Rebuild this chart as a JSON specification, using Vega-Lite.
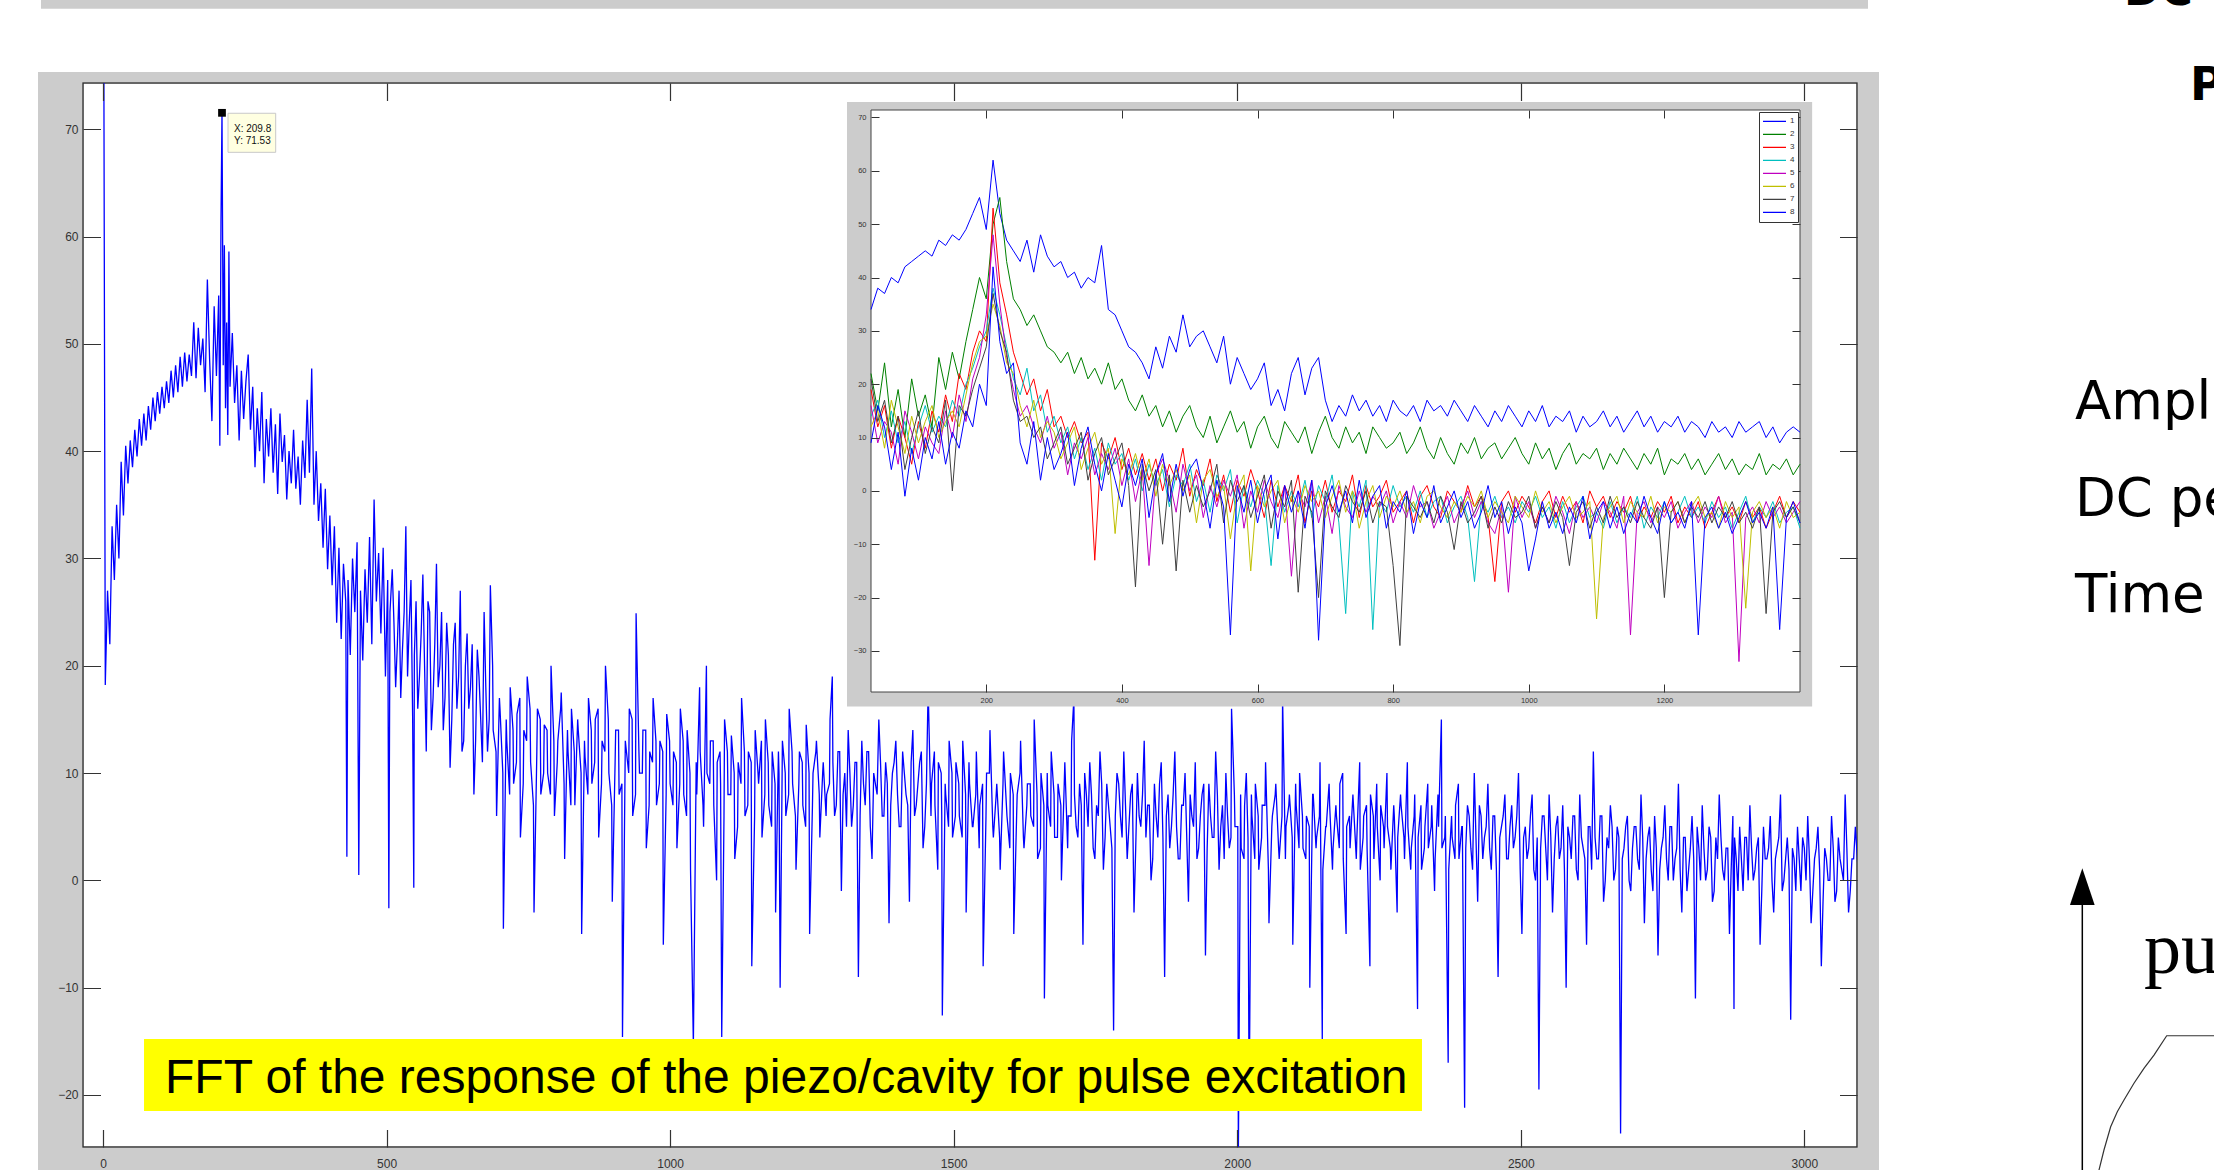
{
"$schema": "https://vega.github.io/schema/vega-lite/v6.json",
"width": 1774,
"height": 1064,
"autosize": {"type": "none"},
"padding": {"left": 83, "top": 83, "right": 357, "bottom": 23},
"background": "white",
"config": {"font": "Liberation Sans", "view": {"fill": "white", "stroke": "#333333", "strokeWidth": 1.5}},
"datasets": {
"fft": [
{"x":0,"y":110},{"x":4,"y":18.2},{"x":8,"y":27},{"x":12,"y":22},{"x":16,"y":33},{"x":20,"y":28},{"x":24,"y":35},{"x":28,"y":30},{"x":32,"y":39},{"x":36,"y":34},{"x":40,"y":40.5},{"x":44,"y":37},{"x":48,"y":41},{"x":52,"y":38.5},{"x":56,"y":42},{"x":60,"y":39.5},{"x":64,"y":43},{"x":68,"y":40.5},{"x":72,"y":43.5},{"x":76,"y":41},{"x":80,"y":44.2},{"x":84,"y":42},{"x":88,"y":45},{"x":92,"y":42.8},{"x":96,"y":45.5},{"x":100,"y":43.5},{"x":104,"y":46},{"x":108,"y":44},{"x":112,"y":46.5},{"x":116,"y":44.5},{"x":120,"y":47.5},{"x":124,"y":45},{"x":128,"y":48},{"x":132,"y":45.5},{"x":136,"y":48.8},{"x":140,"y":46},{"x":144,"y":49.2},{"x":148,"y":46.5},{"x":152,"y":49},{"x":156,"y":47},{"x":160,"y":52},{"x":164,"y":46.8},{"x":168,"y":51.5},{"x":172,"y":48},{"x":176,"y":50.5},{"x":180,"y":45.5},{"x":184,"y":56},{"x":188,"y":48.5},{"x":192,"y":42.8},{"x":196,"y":53.5},{"x":200,"y":47},{"x":204,"y":54.5},{"x":206,"y":40.5},{"x":208,"y":61.3},{"x":209.8,"y":71.53},{"x":212,"y":48},{"x":214,"y":59.2},{"x":216,"y":44},{"x":218,"y":52},{"x":220,"y":41.5},{"x":222,"y":58.6},{"x":224,"y":46},
{"x":228,"y":51},{"x":232,"y":44.5},{"x":236,"y":48},{"x":240,"y":41},{"x":244,"y":47.5},{"x":248,"y":43},{"x":252,"y":46.5},{"x":256,"y":49},{"x":260,"y":42},{"x":264,"y":46},{"x":268,"y":38.5},{"x":272,"y":44},{"x":276,"y":40},{"x":280,"y":45.5},{"x":284,"y":37},{"x":288,"y":43},{"x":292,"y":39.5},{"x":296,"y":44},{"x":300,"y":38},{"x":304,"y":42.5},{"x":308,"y":36},{"x":312,"y":43.5},{"x":316,"y":39},{"x":320,"y":41.5},{"x":324,"y":35.5},{"x":328,"y":40},{"x":332,"y":37},{"x":336,"y":42},{"x":340,"y":36.5},{"x":344,"y":39.5},{"x":348,"y":35},{"x":352,"y":41},{"x":356,"y":37.5},{"x":360,"y":44.8},{"x":364,"y":38},{"x":368,"y":47.7},{"x":372,"y":35},{"x":376,"y":40},{"x":380,"y":33.5},{"x":384,"y":37},{"x":388,"y":31},{"x":392,"y":36.5},{"x":396,"y":29},{"x":400,"y":34},{"x":404,"y":27.5},{"x":408,"y":33},{"x":412,"y":24},{"x":416,"y":31},{"x":420,"y":22.5},{"x":424,"y":29.5},{"x":428,"y":26},{"x":430,"y":2.2},{"x":432,"y":28},{"x":436,"y":21},{"x":440,"y":30},{"x":444,"y":25},{"x":448,"y":31.5},{"x":451,"y":0.5},{"x":454,"y":27},{"x":458,"y":20.5},{"x":462,"y":29},{"x":466,"y":24},{"x":470,"y":32},{"x":474,"y":22},{"x":478,"y":35.5},{"x":482,"y":26},{"x":486,"y":30.5},{"x":490,"y":23},{"x":494,"y":31},{"x":498,"y":19},{"x":502,"y":28},{"x":504,"y":-2.6},{"x":506,"y":25},
{"x":510,"y":29},{"x":516,"y":18},{"x":522,"y":27},{"x":528,"y":21.5},{"x":534,"y":33},{"x":540,"y":24},{"x":546,"y":15},{"x":548,"y":-0.7},{"x":552,"y":26},{"x":558,"y":19},{"x":564,"y":28.5},{"x":570,"y":12},{"x":576,"y":25},{"x":582,"y":17},{"x":588,"y":29.5},{"x":594,"y":20},{"x":600,"y":14},{"x":606,"y":24},{"x":612,"y":10.5},{"x":618,"y":22},{"x":624,"y":16},{"x":630,"y":27},{"x":636,"y":13},{"x":642,"y":23},{"x":648,"y":18},{"x":654,"y":8},{"x":660,"y":21.5},{"x":666,"y":15},{"x":672,"y":25},{"x":678,"y":12},{"x":683,"y":27.5},{"x":688,"y":14},{"x":694,"y":6},{"x":700,"y":16},{"x":706,"y":-4.5},{"x":712,"y":13},{"x":718,"y":18},{"x":724,"y":9},{"x":730,"y":15.5},{"x":736,"y":4},{"x":742,"y":14},{"x":748,"y":19},{"x":754,"y":11},{"x":760,"y":-3},{"x":766,"y":16},{"x":772,"y":8},{"x":778,"y":14.5},{"x":784,"y":10},{"x":790,"y":20},{"x":796,"y":6},{"x":802,"y":13},{"x":808,"y":17.5},{"x":814,"y":2},{"x":820,"y":12},{"x":826,"y":16},{"x":832,"y":7},{"x":838,"y":14},{"x":844,"y":-5},{"x":850,"y":11.5},{"x":856,"y":17},{"x":862,"y":9},{"x":868,"y":15},{"x":874,"y":4},{"x":880,"y":13},{"x":886,"y":20},{"x":892,"y":10},{"x":898,"y":-2},{"x":904,"y":14},{"x":910,"y":8},{"x":916,"y":-14.6},{"x":922,"y":12.5},{"x":928,"y":16},{"x":934,"y":6},{"x":940,"y":24.9},{"x":946,"y":10},{"x":952,"y":14},{"x":958,"y":3},{"x":964,"y":12},{"x":970,"y":17},{"x":976,"y":7},{"x":982,"y":13},{"x":988,"y":-6},{"x":994,"y":15.5},
{"x":1000,"y":9},{"x":1006,"y":12},{"x":1012,"y":3},{"x":1018,"y":16},{"x":1024,"y":8},{"x":1030,"y":14},{"x":1036,"y":1},{"x":1041,"y":-15.3},{"x":1046,"y":11},{"x":1052,"y":18},{"x":1058,"y":7},{"x":1064,"y":20},{"x":1070,"y":9},{"x":1076,"y":13},{"x":1082,"y":0},{"x":1088,"y":12},{"x":1091,"y":-14.6},{"x":1096,"y":15},{"x":1102,"y":8},{"x":1108,"y":13.5},{"x":1114,"y":2},{"x":1120,"y":11},{"x":1126,"y":17},{"x":1132,"y":6},{"x":1138,"y":12},{"x":1144,"y":-8},{"x":1150,"y":14},{"x":1156,"y":9},{"x":1162,"y":4},{"x":1168,"y":15},{"x":1174,"y":7},{"x":1180,"y":12},{"x":1186,"y":-3},{"x":1192,"y":10},{"x":1194,"y":-10},{"x":1198,"y":13},{"x":1204,"y":6},{"x":1210,"y":16},{"x":1216,"y":9},{"x":1222,"y":1},{"x":1228,"y":12},{"x":1234,"y":7},{"x":1240,"y":14.5},{"x":1246,"y":-5},{"x":1252,"y":10},{"x":1258,"y":13},{"x":1264,"y":4},{"x":1270,"y":11},{"x":1276,"y":8},{"x":1282,"y":15},{"x":1286,"y":19},{"x":1290,"y":6},{"x":1296,"y":12},{"x":1302,"y":-1},{"x":1308,"y":10},{"x":1314,"y":14},{"x":1320,"y":5},{"x":1326,"y":11},{"x":1332,"y":-9},{"x":1338,"y":13},{"x":1344,"y":7},{"x":1350,"y":12},{"x":1356,"y":2},{"x":1362,"y":9},{"x":1368,"y":15},{"x":1374,"y":6},{"x":1380,"y":11},{"x":1386,"y":-4},{"x":1392,"y":10},{"x":1398,"y":13},{"x":1404,"y":5},{"x":1410,"y":12},{"x":1416,"y":8},{"x":1422,"y":-2},{"x":1428,"y":14},{"x":1434,"y":7},{"x":1440,"y":11},{"x":1446,"y":3},{"x":1452,"y":9},{"x":1455,"y":18},{"x":1460,"y":6},{"x":1466,"y":12},{"x":1472,"y":1},{"x":1478,"y":10},{"x":1480,"y":-12.6},{"x":1486,"y":8},{"x":1492,"y":13},{"x":1498,"y":4},
{"x":1504,"y":11},{"x":1510,"y":6},{"x":1516,"y":13},{"x":1522,"y":-3},{"x":1528,"y":9},{"x":1534,"y":5},{"x":1540,"y":12},{"x":1546,"y":7},{"x":1552,"y":-8},{"x":1558,"y":10},{"x":1564,"y":14},{"x":1570,"y":4},{"x":1576,"y":9},{"x":1582,"y":1},{"x":1588,"y":12},{"x":1594,"y":6},{"x":1600,"y":10},{"x":1606,"y":-5},{"x":1612,"y":8},{"x":1618,"y":13},{"x":1624,"y":3},{"x":1630,"y":9},{"x":1636,"y":6},{"x":1642,"y":15},{"x":1648,"y":2},{"x":1654,"y":10},{"x":1660,"y":-11},{"x":1666,"y":7},{"x":1672,"y":12},{"x":1678,"y":4},{"x":1684,"y":9},{"x":1690,"y":0},{"x":1696,"y":11},{"x":1702,"y":6},{"x":1708,"y":13},{"x":1712,"y":17},{"x":1716,"y":5},{"x":1722,"y":9},{"x":1728,"y":-6},{"x":1734,"y":8},{"x":1740,"y":11},{"x":1746,"y":3},{"x":1752,"y":7},{"x":1758,"y":12},{"x":1764,"y":1},{"x":1770,"y":9},{"x":1776,"y":5},{"x":1782,"y":-14},{"x":1788,"y":10},{"x":1794,"y":6},{"x":1800,"y":12},{"x":1806,"y":2},{"x":1812,"y":8},{"x":1818,"y":-3},{"x":1824,"y":10},{"x":1830,"y":5},{"x":1836,"y":13},{"x":1842,"y":7},{"x":1848,"y":0},{"x":1854,"y":9},{"x":1860,"y":4},{"x":1866,"y":11},{"x":1872,"y":-9},{"x":1878,"y":8},{"x":1884,"y":5},{"x":1890,"y":12},{"x":1896,"y":2},{"x":1902,"y":7},{"x":1908,"y":10},{"x":1914,"y":-2},{"x":1920,"y":6},{"x":1926,"y":11},{"x":1932,"y":3},{"x":1938,"y":8},{"x":1944,"y":-7},{"x":1950,"y":9},{"x":1956,"y":4},{"x":1962,"y":12},{"x":1968,"y":1},{"x":1974,"y":7},{"x":1980,"y":10},{"x":1986,"y":3},{"x":1990,"y":16},{"x":1996,"y":5},
{"x":2002,"y":-26},{"x":2006,"y":8},{"x":2012,"y":2},{"x":2016,"y":10},{"x":2021,"y":-21.5},{"x":2026,"y":6},{"x":2032,"y":9},{"x":2038,"y":1},{"x":2044,"y":7},{"x":2050,"y":11},{"x":2056,"y":-4},{"x":2062,"y":6},{"x":2068,"y":9},{"x":2074,"y":2},{"x":2080,"y":17},{"x":2086,"y":5},{"x":2092,"y":8},{"x":2098,"y":-6},{"x":2104,"y":7},{"x":2110,"y":10},{"x":2116,"y":3},{"x":2122,"y":6},{"x":2128,"y":-10},{"x":2134,"y":8},{"x":2140,"y":4},{"x":2146,"y":11},{"x":2150,"y":-15},{"x":2156,"y":5},{"x":2162,"y":9},{"x":2168,"y":1},{"x":2174,"y":7},{"x":2180,"y":3},{"x":2186,"y":10},{"x":2192,"y":-5},{"x":2198,"y":6},{"x":2204,"y":8},{"x":2210,"y":2},{"x":2216,"y":11},{"x":2222,"y":4},{"x":2228,"y":7},{"x":2234,"y":-8},{"x":2240,"y":6},{"x":2246,"y":9},{"x":2252,"y":0},{"x":2258,"y":5},{"x":2264,"y":10},{"x":2270,"y":3},{"x":2276,"y":7},{"x":2282,"y":-3},{"x":2288,"y":8},{"x":2294,"y":4},{"x":2300,"y":11},{"x":2306,"y":1},{"x":2312,"y":6},{"x":2318,"y":-12},{"x":2324,"y":7},{"x":2330,"y":3},{"x":2336,"y":9},{"x":2342,"y":5},{"x":2348,"y":-1},{"x":2354,"y":8},{"x":2360,"y":15},{"x":2366,"y":4},{"x":2372,"y":-17},{"x":2378,"y":6},{"x":2384,"y":2},{"x":2390,"y":9},{"x":2396,"y":5},{"x":2401,"y":-21.2},{"x":2406,"y":7},{"x":2412,"y":3},{"x":2418,"y":10},{"x":2424,"y":-2},{"x":2430,"y":6},{"x":2436,"y":4},{"x":2442,"y":9},{"x":2448,"y":1},{"x":2454,"y":6},{"x":2460,"y":-9},{"x":2466,"y":5},{"x":2472,"y":8},{"x":2478,"y":2},{"x":2484,"y":7},{"x":2490,"y":4},{"x":2496,"y":10},
{"x":2502,"y":-5},{"x":2508,"y":5},{"x":2514,"y":3},{"x":2520,"y":8},{"x":2526,"y":0},{"x":2532,"y":-19.5},{"x":2538,"y":6},{"x":2544,"y":3},{"x":2550,"y":8},{"x":2556,"y":-3},{"x":2562,"y":5},{"x":2568,"y":2},{"x":2574,"y":7},{"x":2580,"y":-10},{"x":2586,"y":4},{"x":2592,"y":6},{"x":2598,"y":1},{"x":2604,"y":8},{"x":2610,"y":3},{"x":2616,"y":-6},{"x":2622,"y":5},{"x":2628,"y":12},{"x":2634,"y":2},{"x":2640,"y":6},{"x":2646,"y":-2},{"x":2652,"y":4},{"x":2658,"y":7},{"x":2664,"y":0},{"x":2670,"y":5},{"x":2676,"y":-23.6},{"x":2682,"y":3},{"x":2688,"y":6},{"x":2694,"y":-1},{"x":2700,"y":5},{"x":2706,"y":2},{"x":2712,"y":8},{"x":2718,"y":-4},{"x":2724,"y":4},{"x":2730,"y":1},{"x":2736,"y":6},{"x":2742,"y":-7},{"x":2748,"y":3},{"x":2754,"y":7},{"x":2760,"y":0},{"x":2766,"y":5},{"x":2772,"y":2},{"x":2778,"y":9},{"x":2784,"y":-3},{"x":2790,"y":4},{"x":2796,"y":1},{"x":2802,"y":6},{"x":2808,"y":-11},{"x":2814,"y":3},{"x":2820,"y":7},{"x":2826,"y":0},{"x":2832,"y":5},{"x":2838,"y":-2},{"x":2844,"y":4},{"x":2850,"y":8},{"x":2856,"y":1},{"x":2862,"y":3},{"x":2868,"y":-5},{"x":2874,"y":6},{"x":2876,"y":-12},{"x":2880,"y":2},{"x":2886,"y":5},{"x":2892,"y":-1},{"x":2898,"y":4},{"x":2904,"y":7},{"x":2910,"y":0},{"x":2916,"y":3},{"x":2922,"y":-6},{"x":2928,"y":5},{"x":2934,"y":2},{"x":2940,"y":6},{"x":2946,"y":-3},{"x":2952,"y":3},{"x":2958,"y":8},{"x":2964,"y":0},{"x":2970,"y":4},{"x":2976,"y":-13},{"x":2982,"y":2},{"x":2988,"y":5},{"x":2994,"y":-1},{"x":3000,"y":3},{"x":3006,"y":6},{"x":3012,"y":-4},{"x":3018,"y":2},{"x":3024,"y":5},{"x":3030,"y":-8},{"x":3036,"y":3},{"x":3042,"y":0},{"x":3048,"y":6},{"x":3054,"y":-2},{"x":3060,"y":4},{"x":3066,"y":1},{"x":3072,"y":8},{"x":3078,"y":-3},{"x":3084,"y":2},{"x":3090,"y":5},{"x":3096,"y":0},
{"x":513,"y":24},{"x":519,"y":22},{"x":525,"y":17},{"x":531,"y":25},{"x":537,"y":19},{"x":543,"y":28},{"x":549,"y":21},{"x":555,"y":16},{"x":561,"y":23},{"x":567,"y":20},{"x":573,"y":26},{"x":579,"y":14},{"x":585,"y":22},{"x":591,"y":18},{"x":597,"y":25},{"x":603,"y":17},{"x":609,"y":21},{"x":615,"y":15},{"x":621,"y":24},{"x":627,"y":19},{"x":633,"y":12},{"x":639,"y":20},{"x":645,"y":16},{"x":651,"y":22},{"x":657,"y":13},{"x":663,"y":19},{"x":669,"y":11},{"x":675,"y":18},{"x":681,"y":15},{"x":687,"y":20},{"x":693,"y":12},{"x":699,"y":17},
{"x":705,"y":10},{"x":711,"y":15},{"x":717,"y":8},{"x":723,"y":14},{"x":729,"y":11},{"x":735,"y":17},{"x":741,"y":9},{"x":747,"y":13},{"x":753,"y":16},{"x":759,"y":7},{"x":765,"y":12},{"x":771,"y":15},{"x":777,"y":10},{"x":783,"y":14},{"x":789,"y":8},{"x":795,"y":13},{"x":801,"y":11},{"x":807,"y":16},{"x":813,"y":9},{"x":819,"y":14},{"x":825,"y":7},{"x":831,"y":12},{"x":837,"y":15},{"x":843,"y":10},{"x":849,"y":13},{"x":855,"y":8},{"x":861,"y":14},{"x":867,"y":11},{"x":873,"y":16},{"x":879,"y":9},{"x":885,"y":12},{"x":891,"y":15},{"x":897,"y":7},{"x":903,"y":11},{"x":909,"y":14},{"x":915,"y":9},{"x":921,"y":13},{"x":927,"y":10},{"x":933,"y":15},{"x":939,"y":8},{"x":945,"y":12},{"x":951,"y":10},{"x":957,"y":14},{"x":963,"y":7},{"x":969,"y":11},{"x":975,"y":13},{"x":981,"y":9},{"x":987,"y":12},{"x":993,"y":8},{"x":999,"y":13},
{"x":1005,"y":7},{"x":1011,"y":11},{"x":1017,"y":9},{"x":1023,"y":13},{"x":1029,"y":6},{"x":1035,"y":10},{"x":1047,"y":8},{"x":1053,"y":12},{"x":1059,"y":5},{"x":1065,"y":10},{"x":1071,"y":13},{"x":1077,"y":7},{"x":1083,"y":11},{"x":1089,"y":9},{"x":1095,"y":6},{"x":1101,"y":12},{"x":1107,"y":8},{"x":1113,"y":10},{"x":1119,"y":5},{"x":1125,"y":9},{"x":1131,"y":12},{"x":1137,"y":7},{"x":1143,"y":11},{"x":1149,"y":6},{"x":1155,"y":10},{"x":1161,"y":13},{"x":1167,"y":8},{"x":1173,"y":11},{"x":1179,"y":5},{"x":1185,"y":9},{"x":1191,"y":12},{"x":1197,"y":7},{"x":1203,"y":10},{"x":1209,"y":8},{"x":1215,"y":12},{"x":1221,"y":6},{"x":1227,"y":9},{"x":1233,"y":11},{"x":1239,"y":5},{"x":1245,"y":10},{"x":1251,"y":7},{"x":1257,"y":12},{"x":1263,"y":8},{"x":1269,"y":10},{"x":1275,"y":6},{"x":1281,"y":9},{"x":1287,"y":11},{"x":1293,"y":7},{"x":1299,"y":12},{"x":1305,"y":8},{"x":1311,"y":5},{"x":1317,"y":10},{"x":1323,"y":7},{"x":1329,"y":11},{"x":1335,"y":6},{"x":1341,"y":9},{"x":1347,"y":12},{"x":1353,"y":5},{"x":1359,"y":10},{"x":1365,"y":8},{"x":1371,"y":11},{"x":1377,"y":6},{"x":1383,"y":9},{"x":1389,"y":7},{"x":1395,"y":11},{"x":1401,"y":8},{"x":1407,"y":5},{"x":1413,"y":10},{"x":1419,"y":7},{"x":1425,"y":11},{"x":1431,"y":6},{"x":1437,"y":9},{"x":1443,"y":12},{"x":1449,"y":5},{"x":1461,"y":9},{"x":1467,"y":7},{"x":1473,"y":11},{"x":1479,"y":6},{"x":1485,"y":9},{"x":1491,"y":5},{"x":1497,"y":10},
{"x":1503,"y":6},{"x":1509,"y":9},{"x":1515,"y":4},{"x":1521,"y":8},{"x":1527,"y":11},{"x":1533,"y":5},{"x":1539,"y":8},{"x":1545,"y":3},{"x":1551,"y":9},{"x":1557,"y":6},{"x":1563,"y":10},{"x":1569,"y":5},{"x":1575,"y":8},{"x":1581,"y":4},{"x":1587,"y":9},{"x":1593,"y":7},{"x":1599,"y":3},{"x":1605,"y":8},{"x":1611,"y":6},{"x":1617,"y":10},{"x":1623,"y":4},{"x":1629,"y":7},{"x":1635,"y":9},{"x":1641,"y":5},{"x":1647,"y":8},{"x":1653,"y":3},{"x":1659,"y":7},{"x":1665,"y":10},{"x":1671,"y":5},{"x":1677,"y":8},{"x":1683,"y":4},{"x":1689,"y":7},{"x":1695,"y":9},{"x":1701,"y":3},{"x":1707,"y":6},{"x":1713,"y":8},{"x":1719,"y":4},{"x":1725,"y":7},{"x":1731,"y":10},{"x":1737,"y":5},{"x":1743,"y":8},{"x":1749,"y":2},{"x":1755,"y":6},{"x":1761,"y":9},{"x":1767,"y":4},{"x":1773,"y":7},{"x":1779,"y":3},{"x":1785,"y":6},{"x":1791,"y":9},{"x":1797,"y":4},{"x":1803,"y":7},{"x":1809,"y":5},{"x":1815,"y":9},{"x":1821,"y":3},{"x":1827,"y":6},{"x":1833,"y":8},{"x":1839,"y":4},{"x":1845,"y":7},{"x":1851,"y":2},{"x":1857,"y":6},{"x":1863,"y":9},{"x":1869,"y":4},{"x":1875,"y":6},{"x":1881,"y":3},{"x":1887,"y":8},{"x":1893,"y":5},{"x":1899,"y":2},{"x":1905,"y":7},{"x":1911,"y":4},{"x":1917,"y":8},{"x":1923,"y":5},{"x":1929,"y":2},{"x":1935,"y":6},{"x":1941,"y":9},{"x":1947,"y":3},{"x":1953,"y":6},{"x":1959,"y":4},{"x":1965,"y":8},{"x":1971,"y":5},{"x":1977,"y":2},{"x":1983,"y":6},{"x":1989,"y":4},{"x":1995,"y":8},
{"x":2001,"y":5},{"x":2007,"y":3},{"x":2013,"y":7},{"x":2019,"y":4},{"x":2025,"y":8},{"x":2031,"y":2},{"x":2037,"y":6},{"x":2043,"y":4},{"x":2049,"y":7},{"x":2055,"y":1},{"x":2061,"y":5},{"x":2067,"y":8},{"x":2073,"y":3},{"x":2079,"y":6},{"x":2085,"y":2},{"x":2091,"y":7},{"x":2097,"y":4},{"x":2103,"y":9},{"x":2109,"y":3},{"x":2115,"y":6},{"x":2121,"y":2},{"x":2127,"y":5},{"x":2133,"y":8},{"x":2139,"y":3},{"x":2145,"y":6},{"x":2151,"y":1},{"x":2157,"y":5},{"x":2163,"y":7},{"x":2169,"y":3},{"x":2175,"y":6},{"x":2181,"y":9},{"x":2187,"y":2},{"x":2193,"y":5},{"x":2199,"y":3},{"x":2205,"y":7},{"x":2211,"y":4},{"x":2217,"y":1},{"x":2223,"y":6},{"x":2229,"y":3},{"x":2235,"y":8},{"x":2241,"y":2},{"x":2247,"y":5},{"x":2253,"y":7},{"x":2259,"y":3},{"x":2265,"y":5},{"x":2271,"y":1},{"x":2277,"y":6},{"x":2283,"y":4},{"x":2289,"y":7},{"x":2295,"y":2},{"x":2301,"y":5},{"x":2307,"y":3},{"x":2313,"y":8},{"x":2319,"y":4},{"x":2325,"y":1},{"x":2331,"y":5},{"x":2337,"y":3},{"x":2343,"y":7},{"x":2349,"y":2},{"x":2355,"y":5},{"x":2361,"y":3},{"x":2367,"y":6},{"x":2373,"y":1},{"x":2379,"y":4},{"x":2385,"y":7},{"x":2391,"y":2},{"x":2397,"y":5},{"x":2403,"y":3},{"x":2409,"y":6},{"x":2415,"y":1},{"x":2421,"y":4},{"x":2427,"y":7},{"x":2433,"y":2},{"x":2439,"y":5},{"x":2445,"y":3},{"x":2451,"y":6},{"x":2457,"y":1},{"x":2463,"y":4},{"x":2469,"y":6},{"x":2475,"y":2},{"x":2481,"y":5},{"x":2487,"y":3},{"x":2493,"y":6},{"x":2499,"y":1},
{"x":2505,"y":4},{"x":2511,"y":2},{"x":2517,"y":6},{"x":2523,"y":1},{"x":2529,"y":4},{"x":2535,"y":3},{"x":2541,"y":6},{"x":2547,"y":0},{"x":2553,"y":4},{"x":2559,"y":2},{"x":2565,"y":6},{"x":2571,"y":3},{"x":2577,"y":1},{"x":2583,"y":5},{"x":2589,"y":2},{"x":2595,"y":6},{"x":2601,"y":0},{"x":2607,"y":4},{"x":2613,"y":2},{"x":2619,"y":5},{"x":2625,"y":1},{"x":2631,"y":4},{"x":2637,"y":2},{"x":2643,"y":6},{"x":2649,"y":0},{"x":2655,"y":3},{"x":2661,"y":5},{"x":2667,"y":1},{"x":2673,"y":4},{"x":2679,"y":2},{"x":2685,"y":5},{"x":2691,"y":0},{"x":2697,"y":3},{"x":2703,"y":5},{"x":2709,"y":1},{"x":2715,"y":4},{"x":2721,"y":2},{"x":2727,"y":5},{"x":2733,"y":-1},{"x":2739,"y":3},{"x":2745,"y":1},{"x":2751,"y":4},{"x":2757,"y":2},{"x":2763,"y":5},{"x":2769,"y":0},{"x":2775,"y":3},{"x":2781,"y":1},{"x":2787,"y":4},{"x":2793,"y":-1},{"x":2799,"y":3},{"x":2805,"y":2},{"x":2811,"y":5},{"x":2817,"y":0},{"x":2823,"y":3},{"x":2829,"y":1},{"x":2835,"y":4},{"x":2841,"y":-1},{"x":2847,"y":2},{"x":2853,"y":4},{"x":2859,"y":0},{"x":2865,"y":3},{"x":2871,"y":1},{"x":2877,"y":4},{"x":2883,"y":-1},{"x":2889,"y":2},{"x":2895,"y":4},{"x":2901,"y":0},{"x":2907,"y":3},{"x":2913,"y":1},{"x":2919,"y":4},{"x":2925,"y":-1},{"x":2931,"y":2},{"x":2937,"y":3},{"x":2943,"y":0},{"x":2949,"y":2},{"x":2955,"y":4},{"x":2961,"y":-1},{"x":2967,"y":2},{"x":2973,"y":1},{"x":2979,"y":3},{"x":2985,"y":-1},{"x":2991,"y":2},{"x":2997,"y":4},{"x":3003,"y":0},{"x":3009,"y":2},{"x":3015,"y":-1},{"x":3021,"y":3},{"x":3027,"y":1},{"x":3033,"y":-2},{"x":3039,"y":2},{"x":3045,"y":0},{"x":3051,"y":3},{"x":3057,"y":-1},{"x":3063,"y":2},{"x":3069,"y":0},{"x":3075,"y":3},{"x":3081,"y":-1},{"x":3087,"y":2}
],
"inset": [
{"x":30,"1":34,"2":22,"3":19,"4":14,"5":16,"6":12,"7":21,"8":9},
{"x":40,"1":38,"2":15,"3":12,"4":17,"5":9,"6":15,"7":13,"8":16},
{"x":50,"1":37,"2":24,"3":16,"4":10,"5":13,"6":8,"7":17,"8":12},
{"x":60,"1":40,"2":12,"3":8,"4":15,"5":11,"6":17,"7":9,"8":4},
{"x":70,"1":39,"2":19,"3":14,"4":9,"5":5,"6":12,"7":14,"8":11},
{"x":80,"1":42,"2":10,"3":10,"4":13,"5":15,"6":7,"7":4,"8":-1},
{"x":90,"1":43,"2":21,"3":5,"4":7,"5":11,"6":14,"7":10,"8":8},
{"x":100,"1":44,"2":14,"3":13,"4":12,"5":6,"6":9,"7":15,"8":2},
{"x":110,"1":45,"2":18,"3":8,"4":16,"5":12,"6":13,"7":7,"8":10},
{"x":120,"1":44,"2":12,"3":15,"4":11,"5":9,"6":16,"7":12,"8":6},
{"x":130,"1":47,"2":25,"3":11,"4":14,"5":7,"6":10,"7":9,"8":13},
{"x":140,"1":46,"2":19,"3":18,"4":12,"5":15,"6":13,"7":17,"8":5},
{"x":150,"1":48,"2":26,"3":13,"4":17,"5":10,"6":15,"7":0,"8":11},
{"x":160,"1":47,"2":21,"3":22,"4":14,"5":18,"6":12,"7":16,"8":8},
{"x":170,"1":49,"2":28,"3":19,"4":20,"5":13,"6":18,"7":14,"8":15},
{"x":180,"1":52,"2":34,"3":26,"4":23,"5":21,"6":24,"7":19,"8":12},
{"x":190,"1":55,"2":40,"3":30,"4":27,"5":25,"6":28,"7":23,"8":20},
{"x":200,"1":49,"2":36,"3":28,"4":30,"5":33,"6":29,"7":27,"8":16},
{"x":210,"1":62,"2":50,"3":53,"4":38,"5":48,"6":35,"7":37,"8":42},
{"x":220,"1":52,"2":55,"3":39,"4":33,"5":35,"6":31,"7":30,"8":28},
{"x":230,"1":47,"2":43,"3":33,"4":27,"5":25,"6":24,"7":26,"8":22},
{"x":240,"1":45,"2":36,"3":26,"4":21,"5":19,"6":22,"7":17,"8":24},
{"x":250,"1":43,"2":34,"3":22,"4":18,"5":14,"6":16,"7":13,"8":9},
{"x":260,"1":47,"2":31,"3":18,"4":23,"5":16,"6":12,"7":14,"8":5},
{"x":270,"1":41,"2":33,"3":21,"4":15,"5":12,"6":17,"7":10,"8":13},
{"x":280,"1":48,"2":30,"3":15,"4":18,"5":9,"6":10,"7":12,"8":2},
{"x":290,"1":44,"2":27,"3":19,"4":11,"5":14,"6":13,"7":6,"8":10},
{"x":300,"1":42,"2":26,"3":12,"4":14,"5":8,"6":11,"7":9,"8":4},
{"x":310,"1":43,"2":24,"3":14,"4":9,"5":11,"6":6,"7":12,"8":7},
{"x":320,"1":40,"2":26,"3":10,"4":12,"5":3,"6":9,"7":5,"8":11},
{"x":330,"1":41,"2":22,"3":13,"4":6,"5":9,"6":12,"7":8,"8":1},
{"x":340,"1":38,"2":25,"3":9,"4":10,"5":6,"6":4,"7":11,"8":8},
{"x":350,"1":40,"2":21,"3":11,"4":4,"5":10,"6":8,"7":2,"8":12},
{"x":360,"1":39,"2":23,"3":-13,"4":8,"5":3,"6":11,"7":7,"8":5},
{"x":370,"1":46,"2":20,"3":9,"4":2,"5":7,"6":5,"7":10,"8":0},
{"x":380,"1":34,"2":24,"3":6,"4":9,"5":4,"6":8,"7":3,"8":7},
{"x":390,"1":33,"2":19,"3":10,"4":5,"5":8,"6":-8,"7":6,"8":2},
{"x":400,"1":30,"2":21,"3":4,"4":7,"5":1,"6":6,"7":9,"8":-3},
{"x":410,"1":27,"2":17,"3":8,"4":2,"5":6,"6":3,"7":1,"8":5},
{"x":420,"1":26,"2":15,"3":3,"4":6,"5":-2,"6":7,"7":-18,"8":1},
{"x":430,"1":24,"2":18,"3":7,"4":0,"5":4,"6":2,"7":5,"8":6},
{"x":440,"1":21,"2":14,"3":2,"4":5,"5":-14,"6":6,"7":0,"8":-5},
{"x":450,"1":27,"2":16,"3":6,"4":1,"5":3,"6":-1,"7":4,"8":3},
{"x":460,"1":23,"2":12,"3":0,"4":4,"5":6,"6":5,"7":-10,"8":7},
{"x":470,"1":29,"2":15,"3":5,"4":-3,"5":2,"6":1,"7":3,"8":-2},
{"x":480,"1":26,"2":11,"3":2,"4":3,"5":-4,"6":4,"7":-15,"8":5},
{"x":490,"1":33,"2":14,"3":8,"4":1,"5":5,"6":0,"7":2,"8":-1},
{"x":500,"1":27,"2":16,"3":-1,"4":5,"5":0,"6":3,"7":-4,"8":4},
{"x":510,"1":29,"2":12,"3":4,"4":-2,"5":3,"6":-6,"7":1,"8":6},
{"x":520,"1":30,"2":10,"3":1,"4":2,"5":-5,"6":2,"7":-3,"8":0},
{"x":530,"1":27,"2":14,"3":6,"4":-4,"5":1,"6":4,"7":0,"8":-7},
{"x":540,"1":24,"2":9,"3":-2,"4":3,"5":-3,"6":-1,"7":5,"8":2},
{"x":550,"1":29,"2":12,"3":3,"4":0,"5":2,"6":1,"7":-6,"8":-3},
{"x":560,"1":20,"2":15,"3":-4,"4":4,"5":-1,"6":-9,"7":2,"8":-27},
{"x":570,"1":25,"2":11,"3":2,"4":-6,"5":3,"6":0,"7":-2,"8":1},
{"x":580,"1":22,"2":13,"3":-1,"4":1,"5":-7,"6":3,"7":1,"8":-4},
{"x":590,"1":19,"2":8,"3":4,"4":-3,"5":0,"6":-15,"7":-5,"8":2},
{"x":600,"1":21,"2":12,"3":0,"4":2,"5":-4,"6":1,"7":-1,"8":-6},
{"x":610,"1":24,"2":14,"3":-5,"4":-1,"5":2,"6":-3,"7":3,"8":0},
{"x":620,"1":16,"2":10,"3":2,"4":-14,"5":-2,"6":0,"7":-7,"8":3},
{"x":630,"1":19,"2":8,"3":-3,"4":1,"5":-5,"6":2,"7":0,"8":-9},
{"x":640,"1":15,"2":13,"3":1,"4":-4,"5":1,"6":-6,"7":-3,"8":1},
{"x":650,"1":22,"2":11,"3":-2,"4":0,"5":-16,"6":-1,"7":2,"8":-4},
{"x":660,"1":25,"2":9,"3":3,"4":-3,"5":0,"6":-4,"7":-19,"8":0},
{"x":670,"1":18,"2":12,"3":-6,"4":2,"5":-3,"6":1,"7":-1,"8":-7},
{"x":680,"1":23,"2":7,"3":0,"4":-5,"5":2,"6":-2,"7":-4,"8":2},
{"x":690,"1":25,"2":11,"3":-3,"4":1,"5":-6,"6":0,"7":-20,"8":-28},
{"x":700,"1":17,"2":14,"3":2,"4":-2,"5":-1,"6":-5,"7":0,"8":-3},
{"x":710,"1":13,"2":10,"3":-4,"4":3,"5":-8,"6":-1,"7":-3,"8":1},
{"x":720,"1":16,"2":8,"3":0,"4":-6,"5":1,"6":2,"7":-5,"8":-4},
{"x":730,"1":14,"2":12,"3":-2,"4":-23,"5":-3,"6":-4,"7":1,"8":0},
{"x":740,"1":18,"2":9,"3":3,"4":0,"5":-5,"6":0,"7":-2,"8":-6},
{"x":750,"1":15,"2":11,"3":-5,"4":-3,"5":0,"6":-7,"7":-4,"8":2},
{"x":760,"1":17,"2":7,"3":1,"4":2,"5":-4,"6":-2,"7":0,"8":-5},
{"x":770,"1":14,"2":12,"3":-3,"4":-26,"5":-1,"6":1,"7":-6,"8":-1},
{"x":780,"1":16,"2":10,"3":-1,"4":-2,"5":-3,"6":-5,"7":-2,"8":1},
{"x":790,"1":13,"2":8,"3":2,"4":-4,"5":0,"6":-1,"7":-3,"8":-7},
{"x":800,"1":17,"2":9,"3":-4,"4":1,"5":-6,"6":-3,"7":-14,"8":-2},
{"x":810,"1":15,"2":11,"3":-2,"4":-3,"5":-2,"6":0,"7":-29,"8":-4},
{"x":820,"1":14,"2":7,"3":0,"4":-1,"5":-5,"6":-4,"7":-1,"8":0},
{"x":830,"1":16,"2":9,"3":-6,"4":-4,"5":1,"6":-2,"7":-3,"8":-8},
{"x":840,"1":13,"2":12,"3":-1,"4":0,"5":-3,"6":-6,"7":-5,"8":-2},
{"x":850,"1":17,"2":8,"3":1,"4":-5,"5":-2,"6":-1,"7":-2,"8":-5},
{"x":860,"1":15,"2":6,"3":-3,"4":-2,"5":-7,"6":0,"7":-6,"8":1},
{"x":870,"1":16,"2":10,"3":-5,"4":-1,"5":-4,"6":-3,"7":-1,"8":-6},
{"x":880,"1":14,"2":7,"3":0,"4":-6,"5":-1,"6":-5,"7":-4,"8":-3},
{"x":890,"1":17,"2":5,"3":-2,"4":-3,"5":-6,"6":-2,"7":-11,"8":0},
{"x":900,"1":15,"2":9,"3":-4,"4":-1,"5":-3,"6":-4,"7":-2,"8":-5},
{"x":910,"1":13,"2":7,"3":1,"4":-5,"5":0,"6":-1,"7":-6,"8":-2},
{"x":920,"1":16,"2":10,"3":-3,"4":-17,"5":-5,"6":-3,"7":-4,"8":-7},
{"x":930,"1":14,"2":6,"3":-1,"4":-2,"5":-2,"6":0,"7":-1,"8":-4},
{"x":940,"1":12,"2":8,"3":-5,"4":-4,"5":-6,"6":-5,"7":-7,"8":1},
{"x":950,"1":15,"2":9,"3":-17,"4":-1,"5":-8,"6":-2,"7":-3,"8":-5},
{"x":960,"1":13,"2":6,"3":-2,"4":-5,"5":-3,"6":-4,"7":-6,"8":-2},
{"x":970,"1":16,"2":8,"3":0,"4":-3,"5":-19,"6":-6,"7":-2,"8":-8},
{"x":980,"1":14,"2":10,"3":-4,"4":-6,"5":-1,"6":-1,"7":-5,"8":-3},
{"x":990,"1":12,"2":7,"3":-1,"4":-2,"5":-5,"6":-3,"7":-4,"8":-6},
{"x":1000,"1":15,"2":5,"3":-3,"4":-4,"5":-2,"6":-5,"7":-1,"8":-15},
{"x":1010,"1":13,"2":9,"3":-6,"4":-1,"5":-7,"6":0,"7":-7,"8":-9},
{"x":1020,"1":16,"2":6,"3":-2,"4":-5,"5":-3,"6":-4,"7":-3,"8":-2},
{"x":1030,"1":12,"2":8,"3":0,"4":-3,"5":-6,"6":-2,"7":-6,"8":-7},
{"x":1040,"1":14,"2":4,"3":-5,"4":-7,"5":-1,"6":-6,"7":-2,"8":-4},
{"x":1050,"1":13,"2":7,"3":-1,"4":-2,"5":-4,"6":-3,"7":-5,"8":-8},
{"x":1060,"1":15,"2":9,"3":-4,"4":-6,"5":-8,"6":-1,"7":-14,"8":-3},
{"x":1070,"1":11,"2":5,"3":-2,"4":-3,"5":-2,"6":-5,"7":-4,"8":-6},
{"x":1080,"1":14,"2":7,"3":-6,"4":-1,"5":-5,"6":-4,"7":-2,"8":-1},
{"x":1090,"1":12,"2":6,"3":0,"4":-5,"5":-3,"6":-2,"7":-7,"8":-9},
{"x":1100,"1":13,"2":8,"3":-3,"4":-4,"5":-6,"6":-24,"7":-3,"8":-4},
{"x":1110,"1":15,"2":4,"3":-1,"4":-7,"5":-2,"6":-5,"7":-6,"8":-2},
{"x":1120,"1":12,"2":7,"3":-5,"4":-2,"5":-4,"6":-3,"7":-1,"8":-7},
{"x":1130,"1":14,"2":5,"3":-2,"4":-6,"5":-7,"6":-1,"7":-5,"8":-3},
{"x":1140,"1":11,"2":8,"3":-4,"4":-3,"5":-1,"6":-6,"7":-3,"8":-8},
{"x":1150,"1":13,"2":6,"3":-1,"4":-5,"5":-27,"6":-2,"7":-6,"8":-4},
{"x":1160,"1":15,"2":4,"3":-6,"4":-1,"5":-4,"6":-4,"7":-2,"8":-6},
{"x":1170,"1":12,"2":7,"3":-3,"4":-7,"5":-2,"6":-5,"7":-5,"8":-1},
{"x":1180,"1":14,"2":5,"3":-5,"4":-3,"5":-6,"6":-1,"7":-7,"8":-5},
{"x":1190,"1":11,"2":8,"3":-2,"4":-5,"5":-3,"6":-6,"7":-3,"8":-8},
{"x":1200,"1":13,"2":3,"3":-4,"4":-2,"5":-5,"6":-3,"7":-20,"8":-2},
{"x":1210,"1":12,"2":6,"3":-1,"4":-6,"5":-2,"6":-4,"7":-4,"8":-6},
{"x":1220,"1":14,"2":5,"3":-6,"4":-4,"5":-7,"6":-2,"7":-2,"8":-4},
{"x":1230,"1":11,"2":7,"3":-3,"4":-1,"5":-4,"6":-6,"7":-6,"8":-7},
{"x":1240,"1":13,"2":4,"3":-5,"4":-5,"5":-2,"6":-3,"7":-3,"8":-2},
{"x":1250,"1":12,"2":6,"3":-2,"4":-3,"5":-6,"6":-1,"7":-5,"8":-27},
{"x":1260,"1":10,"2":3,"3":-7,"4":-6,"5":-3,"6":-5,"7":-2,"8":-5},
{"x":1270,"1":13,"2":5,"3":-4,"4":-2,"5":-5,"6":-4,"7":-6,"8":-3},
{"x":1280,"1":11,"2":7,"3":-1,"4":-5,"5":-1,"6":-7,"7":-3,"8":-7},
{"x":1290,"1":12,"2":4,"3":-5,"4":-3,"5":-6,"6":-2,"7":-5,"8":-4},
{"x":1300,"1":10,"2":6,"3":-3,"4":-7,"5":-4,"6":-5,"7":-2,"8":-8},
{"x":1310,"1":13,"2":3,"3":-6,"4":-4,"5":-32,"6":-3,"7":-6,"8":-5},
{"x":1320,"1":11,"2":5,"3":-2,"4":-1,"5":-5,"6":-22,"7":-4,"8":-2},
{"x":1330,"1":12,"2":4,"3":-5,"4":-6,"5":-3,"6":-4,"7":-7,"8":-6},
{"x":1340,"1":13,"2":7,"3":-3,"4":-3,"5":-6,"6":-2,"7":-3,"8":-4},
{"x":1350,"1":10,"2":3,"3":-7,"4":-5,"5":-2,"6":-5,"7":-23,"8":-7},
{"x":1360,"1":12,"2":5,"3":-4,"4":-2,"5":-5,"6":-3,"7":-4,"8":-3},
{"x":1370,"1":9,"2":4,"3":-1,"4":-6,"5":-3,"6":-7,"7":-2,"8":-26},
{"x":1380,"1":11,"2":6,"3":-5,"4":-4,"5":-6,"6":-2,"7":-5,"8":-5},
{"x":1390,"1":12,"2":3,"3":-2,"4":-3,"5":-4,"6":-5,"7":-3,"8":-2},
{"x":1400,"1":11,"2":5,"3":-4,"4":-7,"5":-2,"6":-4,"7":-6,"8":-6}
],
"pulse": [
{"t":3516.1,"v":-28.11},{"t":3519.6,"v":-27.0},{"t":3528.4,"v":-25.13},{"t":3540.2,"v":-22.96},{"t":3551.9,"v":-21.56},{"t":3563.7,"v":-20.47},{"t":3581.3,"v":-18.91},{"t":3598.9,"v":-17.52},{"t":3616.6,"v":-16.28},{"t":3639.0,"v":-14.48},{"t":3750.6,"v":-14.48}
]
},
"resolve": {"scale": {"x": "independent", "y": "independent"}},
"layer": [
{
"layer": [
{"data": {"name": "fft"}, "mark": {"type": "line", "color": "#0000ff", "strokeWidth": 1.3, "clip": true},
 "encoding": {
  "x": {"field": "x", "type": "quantitative", "scale": {"domain": [-35.3, 3092.9], "nice": false, "zero": false},
   "axis": {"orient": "bottom", "title": null, "format": "d", "values": [0, 500, 1000, 1500, 2000, 2500, 3000], "grid": true, "gridDash": [17.5, 1029, 17.5], "gridColor": "#333333", "gridWidth": 1.2, "gridOpacity": 1, "ticks": false, "domain": false, "labelPadding": 11, "labelFontSize": 12, "labelColor": "#333333", "labelFont": "Liberation Sans", "labelFlush": false, "labelOverlap": false, "zindex": 1}},
  "y": {"field": "y", "type": "quantitative", "scale": {"domain": [-24.85, 74.31], "nice": false, "zero": false},
   "axis": {"orient": "left", "title": null, "format": "d", "values": [-20, -10, 0, 10, 20, 30, 40, 50, 60, 70], "grid": true, "gridDash": [17.5, 1739, 17.5], "gridColor": "#333333", "gridWidth": 1.2, "gridOpacity": 1, "ticks": false, "domain": false, "labelPadding": 5, "labelFontSize": 12, "labelColor": "#333333", "labelFont": "Liberation Sans", "labelFlush": false, "labelOverlap": false, "zindex": 1}}
 }},
{"data": {"values": [{}]}, "mark": {"type": "rect", "color": "#cccccc"}, "encoding": {"x": {"datum": -114.65}, "x2": {"datum": -37.06}, "y": {"datum": 75.34}, "y2": {"datum": -28.9}}},
{"data": {"values": [{}]}, "mark": {"type": "rect", "color": "#cccccc"}, "encoding": {"x": {"datum": 3094.7}, "x2": {"datum": 3131.7}, "y": {"datum": 75.34}, "y2": {"datum": -28.9}}},
{"data": {"values": [{}]}, "mark": {"type": "rect", "color": "#cccccc"}, "encoding": {"x": {"datum": -114.65}, "x2": {"datum": 3131.7}, "y": {"datum": 75.34}, "y2": {"datum": 74.4}}},
{"data": {"values": [{}]}, "mark": {"type": "rect", "color": "#cccccc"}, "encoding": {"x": {"datum": -114.65}, "x2": {"datum": 3131.7}, "y": {"datum": -24.94}, "y2": {"datum": -28.9}}},
{"data": {"values": [{}]}, "mark": {"type": "rect", "color": "#cccccc"}, "encoding": {"x": {"datum": -109.4}, "x2": {"datum": 3112.3}, "y": {"datum": 83.2}, "y2": {"datum": 81.23}}},
{"data": {"values": [{}]}, "mark": {"type": "rect", "fill": "#ffffe1", "stroke": "#c8c8c8", "strokeWidth": 1}, "encoding": {"x": {"datum": 220.4}, "x2": {"datum": 304.5}, "y": {"datum": 71.49}, "y2": {"datum": 67.85}}},
{"data": {"values": [{}]}, "mark": {"type": "point", "shape": "square", "filled": true, "color": "black", "size": 60, "opacity": 1}, "encoding": {"x": {"datum": 209.8}, "y": {"datum": 71.53}}},
{"data": {"values": [{}]}, "mark": {"type": "text", "text": "X: 209.8", "font": "Liberation Sans", "fontSize": 10, "align": "left", "baseline": "alphabetic", "color": "#111111"}, "encoding": {"x": {"datum": 231.0}, "y": {"datum": 69.7}}},
{"data": {"values": [{}]}, "mark": {"type": "text", "text": "Y: 71.53", "font": "Liberation Sans", "fontSize": 10, "align": "left", "baseline": "alphabetic", "color": "#111111"}, "encoding": {"x": {"datum": 231.0}, "y": {"datum": 68.63}}},
{"data": {"values": [{}]}, "mark": {"type": "rect", "color": "#ffff00"}, "encoding": {"x": {"datum": 72.3}, "x2": {"datum": 2325.8}, "y": {"datum": -14.79}, "y2": {"datum": -21.5}}},
{"data": {"values": [{}]}, "mark": {"type": "text", "text": "FFT of the response of the piezo/cavity for pulse excitation", "font": "Liberation Sans", "fontSize": 48, "align": "left", "baseline": "alphabetic", "color": "black"}, "encoding": {"x": {"datum": 109.3}, "y": {"datum": -19.79}}},
{"data": {"values": [{}]}, "mark": {"type": "text", "text": "DC", "font": "DejaVu Sans", "fontWeight": "bold", "fontSize": 44, "align": "left", "baseline": "alphabetic", "color": "black"}, "encoding": {"x": {"datum": 3563.7}, "y": {"datum": 81.58}}},
{"data": {"values": [{}]}, "mark": {"type": "text", "text": "P", "font": "DejaVu Sans", "fontWeight": "bold", "fontSize": 46, "align": "left", "baseline": "alphabetic", "color": "black"}, "encoding": {"x": {"datum": 3680.1}, "y": {"datum": 72.73}}},
{"data": {"values": [{}]}, "mark": {"type": "text", "text": "Ampl", "font": "DejaVu Sans", "fontSize": 53, "align": "left", "baseline": "alphabetic", "color": "black"}, "encoding": {"x": {"datum": 3477.3}, "y": {"datum": 42.97}}},
{"data": {"values": [{}]}, "mark": {"type": "text", "text": "DC pe", "font": "DejaVu Sans", "fontSize": 53, "align": "left", "baseline": "alphabetic", "color": "black"}, "encoding": {"x": {"datum": 3477.3}, "y": {"datum": 33.96}}},
{"data": {"values": [{}]}, "mark": {"type": "text", "text": "Time", "font": "DejaVu Sans", "fontSize": 53, "align": "left", "baseline": "alphabetic", "color": "black"}, "encoding": {"x": {"datum": 3477.3}, "y": {"datum": 24.98}}},
{"data": {"values": [{}]}, "mark": {"type": "text", "text": "pu", "font": "Liberation Serif", "fontSize": 74, "align": "left", "baseline": "alphabetic", "color": "black"}, "encoding": {"x": {"datum": 3598.9}, "y": {"datum": -8.66}}},
{"data": {"values": [{}]}, "mark": {"type": "rule", "color": "black", "strokeWidth": 1.5}, "encoding": {"x": {"datum": 3490.2}, "y": {"datum": -2.3}, "y2": {"datum": -29}}},
{"data": {"values": [{}]}, "mark": {"type": "point", "shape": "M0,-1L0.673,1L-0.673,1Z", "filled": true, "color": "black", "size": 1347, "opacity": 1}, "encoding": {"x": {"datum": 3490.2}, "y": {"datum": -0.59}}},
{"data": {"name": "pulse"}, "mark": {"type": "line", "color": "#333333", "strokeWidth": 1.2}, "encoding": {"x": {"field": "t", "type": "quantitative"}, "y": {"field": "v", "type": "quantitative"}}}
]
},
{
"layer": [
{"data": {"values": [{}]}, "mark": {"type": "rect", "color": "#cccccc"}, "encoding": {"x": {"datum": -5.4, "axis": null}, "x2": {"datum": 1417.9}, "y": {"datum": 72.9, "axis": null}, "y2": {"datum": -40.4}}},
{"data": {"values": [{}]}, "mark": {"type": "rect", "fill": "white", "stroke": "#444444", "strokeWidth": 1},
 "encoding": {
  "x": {"datum": 30, "axis": {"orient": "top", "offset": -27, "title": null, "values": [200, 400, 600, 800, 1000, 1200], "labels": false, "domain": false, "tickSize": -8, "tickColor": "#333333", "zindex": 1}},
  "x2": {"datum": 1400},
  "y": {"datum": -37.7, "axis": {"orient": "right", "offset": -57, "title": null, "values": [-30, -20, -10, 0, 10, 20, 30, 40, 50, 60, 70], "labels": false, "domain": false, "tickSize": -8, "tickColor": "#333333", "zindex": 1}},
  "y2": {"datum": 71.4}
 }},
{"data": {"name": "inset"}, "transform": [{"fold": ["1", "2", "3", "4", "5", "6", "7", "8"], "as": ["series", "value"]}],
 "mark": {"type": "line", "strokeWidth": 1, "clip": true},
 "encoding": {
  "x": {"field": "x", "type": "quantitative", "scale": {"domain": [30, 1400], "range": [788, 1717], "nice": false, "zero": false},
   "axis": {"orient": "bottom", "offset": -455, "title": null, "format": "d", "values": [200, 400, 600, 800, 1000, 1200], "domain": false, "tickSize": -8, "tickColor": "#333333", "labelPadding": 12, "labelFontSize": 7.5, "labelColor": "#333333", "labelFont": "Liberation Sans", "labelFlush": false, "labelOverlap": false, "zindex": 1}},
  "y": {"field": "value", "type": "quantitative", "scale": {"domain": [-37.7, 71.4], "range": [609, 27], "nice": false, "zero": false},
   "axis": {"orient": "left", "offset": -788, "title": null, "format": "d", "values": [-30, -20, -10, 0, 10, 20, 30, 40, 50, 60, 70], "domain": false, "tickSize": -8, "tickColor": "#333333", "labelPadding": 13, "labelFontSize": 7.5, "labelColor": "#333333", "labelFont": "Liberation Sans", "labelFlush": false, "labelOverlap": false, "zindex": 1}},
  "color": {"field": "series", "type": "nominal",
   "scale": {"domain": ["1", "2", "3", "4", "5", "6", "7", "8"], "range": ["#0000ff", "#008000", "#ff0000", "#00bfbf", "#bf00bf", "#bfbf00", "#404040", "#0000ff"]},
   "legend": {"orient": "none", "legendX": 1676, "legendY": 29, "title": null, "symbolType": "stroke", "symbolSize": 529, "symbolStrokeWidth": 1.2, "labelFontSize": 8, "labelColor": "#333333", "labelFont": "Liberation Sans", "labelOffset": 3, "strokeColor": "#333333", "fillColor": "white", "padding": 3, "rowPadding": 0, "clipHeight": 12.8, "zindex": 1}}
 }}
],
"resolve": {"axis": {"x": "independent", "y": "independent"}}
}
]
}
